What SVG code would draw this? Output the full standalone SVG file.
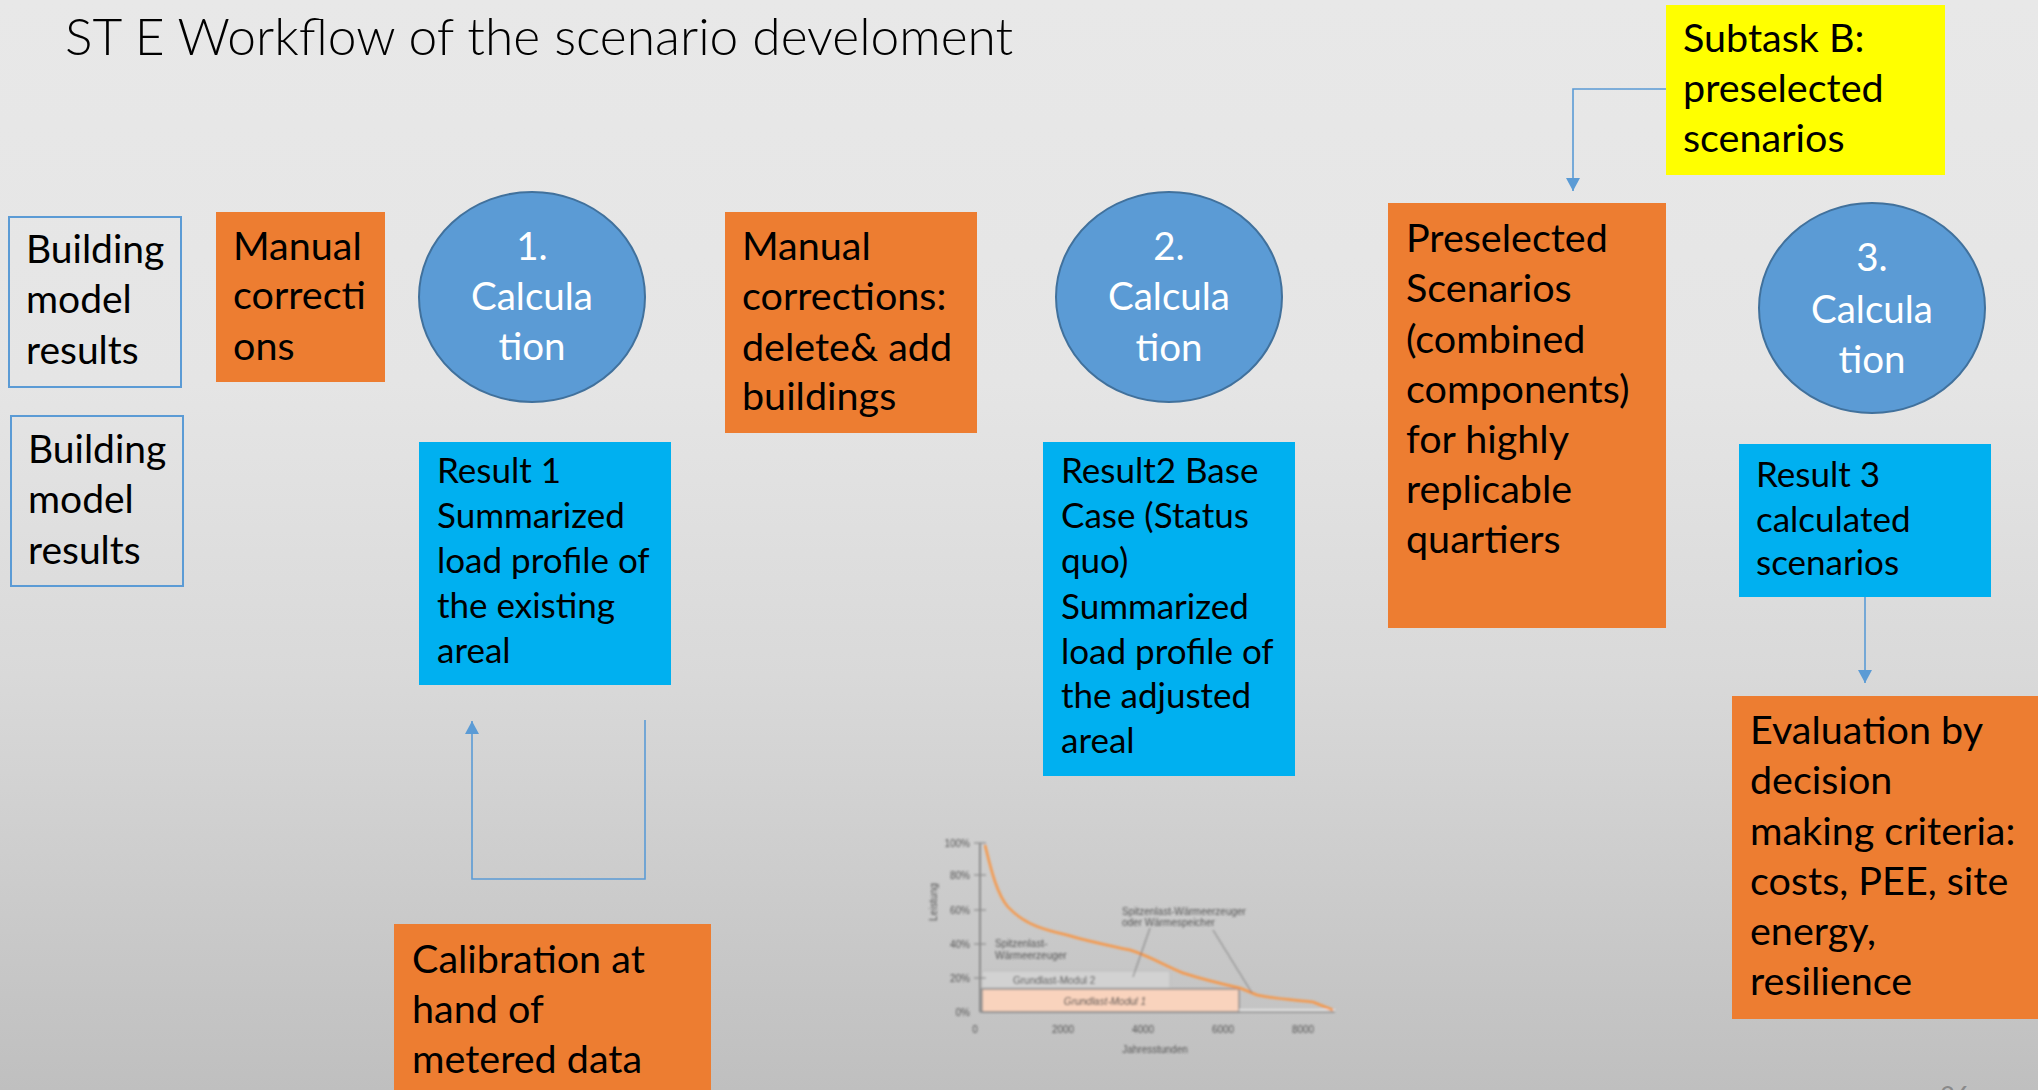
<svg xmlns="http://www.w3.org/2000/svg" width="2038" height="1090" viewBox="0 0 2038 1090">
  <defs>
    <linearGradient id="bg" x1="0" y1="0" x2="0" y2="1">
      <stop offset="0" stop-color="#e8e8e8"/>
      <stop offset="0.35" stop-color="#e5e5e5"/>
      <stop offset="0.62" stop-color="#d9d9d9"/>
      <stop offset="1" stop-color="#bfbfbf"/>
    </linearGradient>
    <marker id="arrow" markerUnits="userSpaceOnUse" markerWidth="14" markerHeight="14" refX="13" refY="7" orient="auto">
      <path d="M0,0 L13,7 L0,14 z" fill="#5b9bd5"/>
    </marker>
    <filter id="soft" x="-5%" y="-5%" width="110%" height="110%">
      <feGaussianBlur stdDeviation="0.8"/>
    </filter>
    <style>
      .t { font-family: Lato, "Open Sans", "Liberation Sans", sans-serif; fill: #000; }
      .big { font-size: 39.5px; }
      .circ { font-size: 38.5px; }
      .mid { font-size: 35px; }
      .white { fill: #ffffff; }
      .orange { fill: #ed7d31; }
      .cyan { fill: #00b0f0; }
      .outline { fill: none; stroke: #5b9bd5; stroke-width: 2; }
      .calc { fill: #5b9bd5; stroke: #41719c; stroke-width: 2; }
      .conn { fill: none; stroke: #5b9bd5; stroke-width: 1.6; }
      .ch { font-family: "Liberation Sans", Arial, sans-serif; font-size: 10px; fill: #555; }
    </style>
  </defs>

  <rect x="0" y="0" width="2038" height="1090" fill="url(#bg)"/>

  <!-- Title -->
  <text id="title" class="t" x="65" y="55" style="font-size:51.5px;font-weight:300">ST E Workflow of the scenario develoment</text>

  <!-- Connectors -->
  <g id="connectors">
    <path class="conn" d="M1666,89 H1573 V191" marker-end="url(#arrow)"/>
    <path class="conn" d="M1865,597 V683" marker-end="url(#arrow)"/>
    <path class="conn" d="M645,720 V879 H472 V721" marker-end="url(#arrow)"/>
  </g>

  <!-- Inputs -->
  <g id="building-model-1">
    <rect class="outline" x="9" y="217" width="172" height="170"/>
    <text class="t" style="font-size:39px"><tspan x="26" y="263">Building</tspan><tspan x="26" y="313">model</tspan><tspan x="26" y="364">results</tspan></text>
  </g>
  <g id="building-model-2">
    <rect class="outline" x="11" y="416" width="172" height="170"/>
    <text class="t" style="font-size:39px"><tspan x="28" y="463">Building</tspan><tspan x="28" y="513">model</tspan><tspan x="28" y="564">results</tspan></text>
  </g>

  <g id="manual-corrections">
    <rect class="orange" x="216" y="212" width="169" height="170"/>
    <text class="t big"><tspan x="233" y="260">Manual</tspan><tspan x="233" y="309">correcti</tspan><tspan x="233" y="360">ons</tspan></text>
  </g>

  <g id="calculation-1">
    <ellipse class="calc" cx="532" cy="297" rx="113" ry="105"/>
    <text class="t circ white" text-anchor="middle"><tspan x="532" y="260">1.</tspan><tspan x="532" y="310">Calcula</tspan><tspan x="532" y="360">tion</tspan></text>
  </g>

  <g id="result-1">
    <rect class="cyan" x="419" y="442" width="252" height="243"/>
    <text class="t mid"><tspan x="437" y="483">Result 1</tspan><tspan x="437" y="528">Summarized</tspan><tspan x="437" y="573">load profile of</tspan><tspan x="437" y="618">the existing</tspan><tspan x="437" y="663">areal</tspan></text>
  </g>

  <g id="calibration">
    <rect class="orange" x="394" y="924" width="317" height="170"/>
    <text class="t big"><tspan x="412" y="973">Calibration at</tspan><tspan x="412" y="1023">hand of</tspan><tspan x="412" y="1073">metered data</tspan></text>
  </g>

  <g id="manual-corrections-buildings">
    <rect class="orange" x="725" y="212" width="252" height="221"/>
    <text class="t big"><tspan x="742" y="260">Manual</tspan><tspan x="742" y="310">corrections:</tspan><tspan x="742" y="361">delete&amp; add</tspan><tspan x="742" y="410">buildings</tspan></text>
  </g>

  <g id="calculation-2">
    <ellipse class="calc" cx="1169" cy="297" rx="113" ry="105"/>
    <text class="t circ white" text-anchor="middle"><tspan x="1169" y="260">2.</tspan><tspan x="1169" y="310">Calcula</tspan><tspan x="1169" y="361">tion</tspan></text>
  </g>

  <g id="result-2">
    <rect class="cyan" x="1043" y="442" width="252" height="334"/>
    <text class="t mid"><tspan x="1061" y="483">Result2 Base</tspan><tspan x="1061" y="528">Case (Status</tspan><tspan x="1061" y="573">quo)</tspan><tspan x="1061" y="619">Summarized</tspan><tspan x="1061" y="664">load profile of</tspan><tspan x="1061" y="708">the adjusted</tspan><tspan x="1061" y="753">areal</tspan></text>
  </g>

  <g id="subtask-b">
    <rect x="1666" y="5" width="279" height="170" fill="#ffff00"/>
    <text class="t big"><tspan x="1683" y="52">Subtask B:</tspan><tspan x="1683" y="102">preselected</tspan><tspan x="1683" y="152">scenarios</tspan></text>
  </g>

  <g id="preselected-scenarios">
    <rect class="orange" x="1388" y="203" width="278" height="425"/>
    <text class="t big"><tspan x="1406" y="252">Preselected</tspan><tspan x="1406" y="302">Scenarios</tspan><tspan x="1406" y="353">(combined</tspan><tspan x="1406" y="403">components)</tspan><tspan x="1406" y="453">for highly</tspan><tspan x="1406" y="503">replicable</tspan><tspan x="1406" y="553">quartiers</tspan></text>
  </g>

  <g id="calculation-3">
    <ellipse class="calc" cx="1872" cy="308" rx="113" ry="105"/>
    <text class="t circ white" text-anchor="middle"><tspan x="1872" y="271">3.</tspan><tspan x="1872" y="323">Calcula</tspan><tspan x="1872" y="373">tion</tspan></text>
  </g>

  <g id="result-3">
    <rect class="cyan" x="1739" y="444" width="252" height="153"/>
    <text class="t mid"><tspan x="1756" y="487">Result 3</tspan><tspan x="1756" y="532">calculated</tspan><tspan x="1756" y="575">scenarios</tspan></text>
  </g>

  <g id="evaluation">
    <rect class="orange" x="1732" y="696" width="306" height="323"/>
    <text class="t big"><tspan x="1750" y="744">Evaluation by</tspan><tspan x="1750" y="794">decision</tspan><tspan x="1750" y="845">making criteria:</tspan><tspan x="1750" y="895">costs, PEE, site</tspan><tspan x="1750" y="945">energy,</tspan><tspan x="1750" y="995">resilience</tspan></text>
  </g>

  <!-- Annual load duration curve -->
  <g id="load-curve" filter="url(#soft)">
    <rect x="982" y="971" width="188" height="17" fill="#d2d2d2" stroke="#bdbdbd" stroke-width="1"/>
    <rect x="982" y="989" width="257" height="23" fill="#f9d3bd" stroke="#8a8a8a" stroke-width="1.5"/>
    <line x1="1239" y1="1010" x2="1335" y2="1010" stroke="#eeeeee" stroke-width="1.5"/>
    <line x1="980" y1="843" x2="980" y2="1012" stroke="#8c8c8c" stroke-width="2"/>
    <line x1="980" y1="1012" x2="1335" y2="1012" stroke="#8c8c8c" stroke-width="1.5"/>
    <g stroke="#8c8c8c" stroke-width="1.2">
      <line x1="974" y1="843" x2="986" y2="843"/>
      <line x1="974" y1="875" x2="986" y2="875"/>
      <line x1="974" y1="910" x2="986" y2="910"/>
      <line x1="974" y1="944" x2="986" y2="944"/>
      <line x1="974" y1="978" x2="986" y2="978"/>
    </g>
    <path d="M985,845 C990,865 996,893 1008,907 C1025,925 1045,930 1067,935 C1090,942 1112,946 1130,950 C1150,956 1165,966 1183,973 C1205,980 1222,984 1240,988 L1257,995 C1275,999 1295,1000 1313,1002 L1333,1010" fill="none" stroke="#f79646" stroke-width="2.5"/>
    <g stroke="#7a7a7a" stroke-width="1" fill="none">
      <path d="M1150,928 L1133,977"/>
      <path d="M1213,930 L1252,993"/>
    </g>
    <g class="ch">
      <text x="970" y="847" text-anchor="end">100%</text>
      <text x="970" y="879" text-anchor="end">80%</text>
      <text x="970" y="914" text-anchor="end">60%</text>
      <text x="970" y="948" text-anchor="end">40%</text>
      <text x="970" y="982" text-anchor="end">20%</text>
      <text x="970" y="1016" text-anchor="end">0%</text>
      <text x="975" y="1033" text-anchor="middle">0</text>
      <text x="1063" y="1033" text-anchor="middle">2000</text>
      <text x="1143" y="1033" text-anchor="middle">4000</text>
      <text x="1223" y="1033" text-anchor="middle">6000</text>
      <text x="1303" y="1033" text-anchor="middle">8000</text>
      <text x="1155" y="1053" text-anchor="middle">Jahresstunden</text>
      <text transform="translate(937,902) rotate(-90)" text-anchor="middle">Leistung</text>
      <text x="995" y="947">Spitzenlast-</text>
      <text x="995" y="959">Wärmeerzeuger</text>
      <text x="1122" y="915">Spitzenlast-Wärmeerzeuger</text>
      <text x="1122" y="926">oder Wärmespeicher</text>
      <text x="1013" y="984">Grundlast-Modul 2</text>
      <text x="1105" y="1005" text-anchor="middle" font-style="italic" fill="#444">Grundlast-Modul 1</text>
    </g>
  </g>

  <!-- Page number, sitting on the lower edge -->
  <text id="page-number" x="1940" y="1106" style="font-family:Lato, 'Liberation Sans', sans-serif;font-size:26px;fill:#8a8a8a">26</text>
</svg>
